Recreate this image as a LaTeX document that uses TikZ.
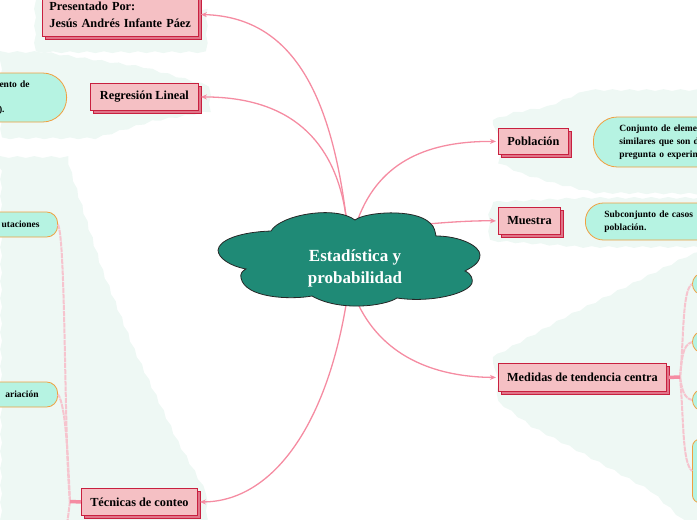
\documentclass[tikz,border=0pt]{standalone}
\usepackage{fontspec}
\setmainfont{Liberation Serif}
\usetikzlibrary{arrows.meta,shadows,decorations.pathmorphing}
\definecolor{blobcol}{HTML}{EEF8F4}
\definecolor{boxcol}{HTML}{F5C0C4}
\definecolor{boxline}{HTML}{C8203F}
\definecolor{boxshade}{HTML}{E07488}
\definecolor{leafcol}{HTML}{B6F3E2}
\definecolor{leafline}{HTML}{F0A040}
\definecolor{linkcol}{HTML}{F58CA2}
\definecolor{sublink}{HTML}{F6C4CE}
\definecolor{cloudcol}{HTML}{1F8A76}
\tikzset{
  blob/.style={fill=blobcol, decorate, decoration={snake, amplitude=0.9pt, segment length=17pt}},
  topicbox/.style={draw=boxline, fill=boxcol, line width=0.9pt, inner sep=0pt, anchor=north west,
    font=\fontsize{12.3}{17}\selectfont\bfseries, align=left,
    copy shadow={shadow xshift=2.5pt, shadow yshift=-2.5pt, draw=boxline, fill=boxshade}},
  leaf/.style={draw=leafline, fill=leafcol, line width=0.8pt, font=\fontsize{9.5}{13}\selectfont\bfseries, inner sep=0pt},
  link/.style={linkcol, line width=1.3pt, -{Stealth[length=6pt,width=5pt]}, shorten >=2pt},
  stub/.style={linkcol, line width=3.5pt},
  sublinkstyle/.style={sublink, line width=2pt, dash pattern=on 5pt off 0.8pt},
}
\begin{document}
\begin{tikzpicture}[x=1pt,y=-1pt]
  \useasboundingbox (0,0) rectangle (697,520);
  \clip (0,0) rectangle (697,520);
  % === Fondi ===
  \fill[blob] (35,-5) -- (35,45) -- (203,45) -- (203,-5) -- cycle;
  \fill[blob] (-5,52) -- (40,52) -- (140,67) -- (203,85) -- (203,116) -- (150,125) -- (90,143) -- (-5,143) -- cycle;
  \fill[blob] (-5,157) -- (65,157) -- (68,170) -- (100,270) -- (130,345) -- (175,440) -- (203,490) -- (203,525) -- (-5,525) -- cycle;
  \fill[blob] (493,120) -- (513,113) -- (547,107) -- (580,93) -- (702,93) -- (702,191) -- (590,190) -- (547,180) -- (513,170) -- (492,160) -- cycle;
  \fill[blob] (493,202) -- (580,198) -- (702,198) -- (702,246) -- (580,246) -- (493,240) -- cycle;
  \fill[blob] (493,357) -- (560,320) -- (620,290) -- (680,260) -- (702,252) -- (702,525) -- (680,517) -- (647,487) -- (580,450) -- (523,420) -- (492,397) -- cycle;

  % === Rami principali ===
  \node[topicbox, text width=142pt, minimum height=44pt, inner xsep=7pt] (presentado) at (42,-8) {Presentado Por:\\Jesús Andrés Infante Páez};
  \node[topicbox, minimum width=108pt, minimum height=27pt, align=center] (regresion) at (90,83) {Regresión Lineal};
  \node[topicbox, minimum width=70pt, minimum height=26pt, align=center] (poblacion) at (498,128) {Población};
  \node[topicbox, minimum width=62pt, minimum height=27pt, align=center] (muestra) at (498,207) {Muestra};
  \node[topicbox, minimum width=168pt, minimum height=28pt, align=center] (medidas) at (498,363) {Medidas de tendencia centra};
  \node[topicbox, minimum width=116pt, minimum height=27pt, align=center] (tecnicas) at (81,488) {Técnicas de conteo};

  % === Foglie ===
  \node[leaf, anchor=west, rounded corners=24pt, minimum height=50pt, text width=140pt, align=left, inner xsep=26pt] (conjunto) at (593,142) {Conjunto de elemen\\similares que son d\\pregunta o experim};
  \node[leaf, anchor=west, rounded corners=18pt, minimum height=37pt, text width=140pt, align=left, inner xsep=19pt] (subconjunto) at (585,221.5) {Subconjunto de casos\\población.};
  \node[leaf, anchor=east, rounded corners=24pt, minimum height=49pt, text width=120pt, align=right, inner xsep=37pt] (regleaf) at (67,97.5) {ento de\\[12pt]).\kern25pt};
  \node[leaf, anchor=east, rounded corners=11pt, minimum height=25pt, text width=120pt, align=right, inner xsep=18pt] (permuta) at (58,224.5) {utaciones};
  \node[leaf, anchor=east, rounded corners=11pt, minimum height=25pt, text width=120pt, align=right, inner xsep=19pt] (varia) at (58,394.5) {ariación};
  \node[leaf, anchor=west, rounded corners=11pt, minimum width=40pt, minimum height=22pt] (media) at (692,284) {};
  \node[leaf, anchor=west, rounded corners=11pt, minimum width=40pt, minimum height=22pt] (mediana) at (692,342) {};
  \node[leaf, anchor=west, rounded corners=11pt, minimum width=40pt, minimum height=22pt] (moda) at (692,400) {};
  \node[leaf, anchor=west, rounded corners=8pt, minimum width=40pt, minimum height=64pt] (rango) at (692,471) {};

  % === Rami secondari ===
  \coordinate (medjoin) at (680,377);
  \coordinate (tecjoin) at (70,501.5);
  \coordinate (tecdown) at (67,525);
  \draw[sublinkstyle] (medjoin) .. controls (684,340) and (682,290) .. (media.west);
  \draw[sublinkstyle] (medjoin) .. controls (682,360) and (682,345) .. (mediana.west);
  \draw[sublinkstyle] (medjoin) .. controls (682,390) and (684,398) .. (moda.west);
  \draw[sublinkstyle] (medjoin) .. controls (684,420) and (682,462) .. (rango.west);
  \draw[sublinkstyle] (tecjoin) .. controls (64,440) and (66,240) .. (permuta.east);
  \draw[sublinkstyle] (tecjoin) .. controls (68,460) and (66,405) .. (varia.east);
  \draw[sublinkstyle] (tecjoin) -- (tecdown);
  \draw[stub] (medidas.east) ++(2pt,0) -- (medjoin);
  \draw[stub] (tecnicas.west) -- (tecjoin);

  % === Collegamenti dal centro ===
  \coordinate (rootnw) at (346,216);
  \coordinate (rootne) at (358,219);
  \coordinate (roote) at (428,224);
  \coordinate (rootse) at (358,304);
  \coordinate (rootsw) at (346,305);
  \draw[link] (rootnw) .. controls (330,90) and (290,17) .. (presentado.east);
  \draw[link] (rootnw) .. controls (335,140) and (290,97) .. (regresion.east);
  \draw[link] (rootne) .. controls (380,160) and (430,141) .. (poblacion.west);
  \draw[link] (roote) .. controls (450,222) and (475,220.5) .. (muestra.west);
  \draw[link] (rootse) .. controls (385,360) and (440,377) .. (medidas.west);
  \draw[link] (rootsw) .. controls (325,430) and (270,501.5) .. (tecnicas.east);

  % === Nuvola centrale ===
  \draw[fill=cloudcol, draw=black!85, line width=0.8pt]
    (355,220) .. controls (365,212) and (415,208) .. (430,223)
    .. controls (435,227) and (435,232) .. (436,236)
    .. controls (460,236) and (480,246) .. (480,255)
    .. controls (480,264) and (470,268) .. (465,271)
    .. controls (472,274) and (473,280) .. (472,283)
    .. controls (468,294) and (430,303) .. (397,298)
    .. controls (385,306) and (340,312) .. (312,296)
    .. controls (290,300) and (245,298) .. (241,278)
    .. controls (240,274) and (242,271) .. (246,269)
    .. controls (230,266) and (218,258) .. (218,250)
    .. controls (219,240) and (240,232) .. (271,231)
    .. controls (280,215) and (335,205) .. (355,220) -- cycle;
  \node[white, font=\fontsize{17}{22}\selectfont\bfseries, align=center, inner sep=0pt] (root) at (355,268) {Estadística y\\probabilidad};
\end{tikzpicture}
\end{document}
